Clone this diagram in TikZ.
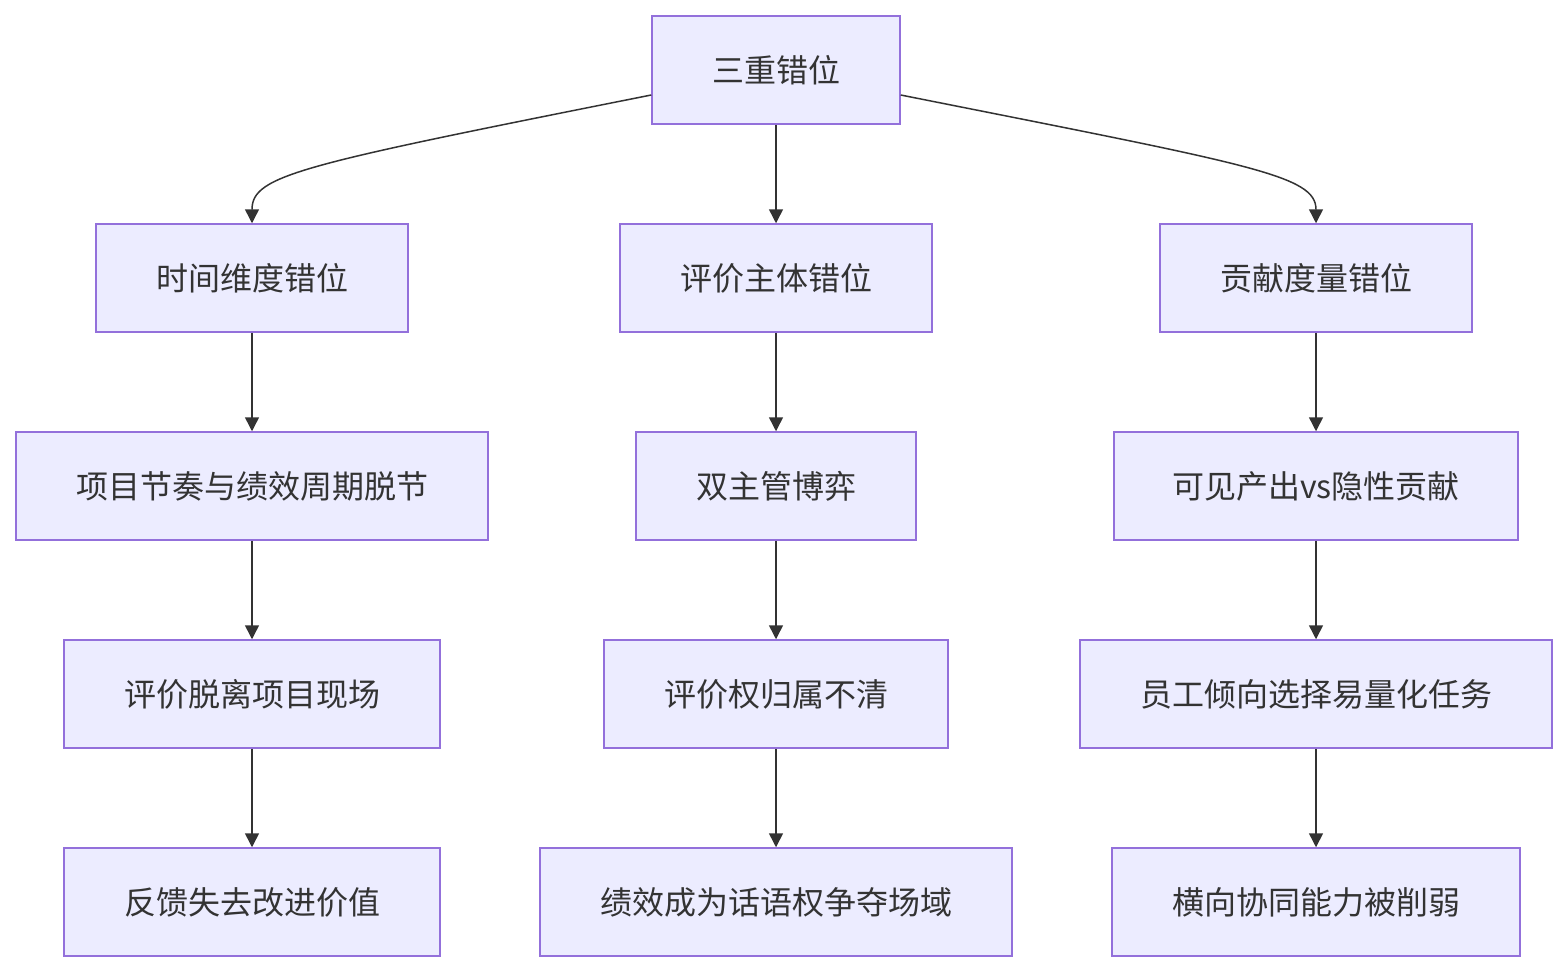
\documentclass[tikz,border=0pt]{standalone}
\usepackage{fontspec}
\setmainfont{Noto Sans CJK SC}
\usetikzlibrary{arrows.meta,calc}
\definecolor{boxfill}{HTML}{ECECFF}
\definecolor{boxline}{HTML}{9370DB}
\definecolor{edgecol}{HTML}{333333}
\tikzset{
  box/.style={draw=boxline, fill=boxfill, line width=1.5pt, minimum height=108pt, inner sep=0pt, font=\fontsize{32}{38}\selectfont, text=edgecol},
  edge/.style={draw=edgecol, line width=1.5pt, -{Triangle[length=14pt,width=14pt]}}
}
\begin{document}
\begin{tikzpicture}[x=1pt,y=-1pt]
\useasboundingbox[fill=white] (0,0) rectangle (1568,972);
\node[box, minimum width=248pt] (t) at (776,70) {三重错位};
\node[box, minimum width=312pt] (a1) at (252,278) {时间维度错位};
\node[box, minimum width=312pt] (b1) at (776,278) {评价主体错位};
\node[box, minimum width=312pt] (c1) at (1316,278) {贡献度量错位};
\node[box, minimum width=472pt] (a2) at (252,486) {项目节奏与绩效周期脱节};
\node[box, minimum width=280pt] (b2) at (776,486) {双主管博弈};
\node[box, minimum width=404pt] (c2) at (1316,486) {可见产出vs隐性贡献};
\node[box, minimum width=376pt] (a3) at (252,694) {评价脱离项目现场};
\node[box, minimum width=344pt] (b3) at (776,694) {评价权归属不清};
\node[box, minimum width=472pt] (c3) at (1316,694) {员工倾向选择易量化任务};
\node[box, minimum width=376pt] (a4) at (252,902) {反馈失去改进价值};
\node[box, minimum width=472pt] (b4) at (776,902) {绩效成为话语权争夺场域};
\node[box, minimum width=408pt] (c4) at (1316,902) {横向协同能力被削弱};
\coordinate (tl) at ($(t.west)+(0,25)$);
\coordinate (tr) at ($(t.east)+(0,25)$);
\draw[edge] (tl) .. controls (300,165) and (252,175) .. (a1.north);
\draw[edge] (tr) .. controls (1252,165) and (1316,175) .. (c1.north);
\draw[edge] (t) -- (b1);
\draw[edge] (a1) -- (a2);
\draw[edge] (a2) -- (a3);
\draw[edge] (a3) -- (a4);
\draw[edge] (b1) -- (b2);
\draw[edge] (b2) -- (b3);
\draw[edge] (b3) -- (b4);
\draw[edge] (c1) -- (c2);
\draw[edge] (c2) -- (c3);
\draw[edge] (c3) -- (c4);
\end{tikzpicture}
\end{document}
